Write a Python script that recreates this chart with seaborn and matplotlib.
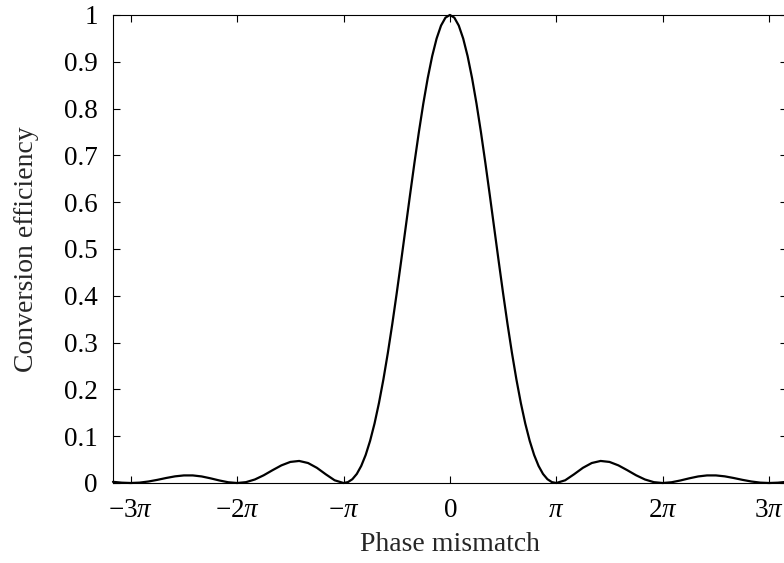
import numpy as np
import pandas as pd
import matplotlib
matplotlib.use("Agg")
import matplotlib.pyplot as plt
import seaborn as sns

# phase mismatch in units of pi/24: coarse on the side lobes, fine on the main lobe
phase_24ths = list(range(-76, -24, 2)) + list(range(-24, 25)) + list(range(26, 77, 2))
efficiency = [
    # side lobes, -38pi/12 .. -13pi/12
    0.0025, 0.0007, 0.0, 0.0008, 0.0032, 0.0067, 0.0107, 0.0142, 0.0162, 0.0162,
    0.0140, 0.0100, 0.0054, 0.0016, 0.0, 0.0018, 0.0075, 0.0165, 0.0274, 0.0377,
    0.0450, 0.0471, 0.0427, 0.0324, 0.0186, 0.0058,
    # main lobe, -pi .. pi
    0.0, 0.0019, 0.0081, 0.0194, 0.0365, 0.0599, 0.0901, 0.1271, 0.1710, 0.2214,
    0.2778, 0.3394, 0.4053, 0.4741, 0.5445, 0.6150, 0.6839, 0.7497, 0.8106, 0.8651,
    0.9119, 0.9496, 0.9774, 0.9943,
    1.0,
    0.9943, 0.9774, 0.9496, 0.9119, 0.8651, 0.8106, 0.7497, 0.6839, 0.6150, 0.5445,
    0.4741, 0.4053, 0.3394, 0.2778, 0.2214, 0.1710, 0.1271, 0.0901, 0.0599, 0.0365,
    0.0194, 0.0081, 0.0019, 0.0,
    # side lobes, 13pi/12 .. 38pi/12
    0.0058, 0.0186, 0.0324, 0.0427, 0.0471, 0.0450, 0.0377, 0.0274, 0.0165, 0.0075,
    0.0018, 0.0, 0.0016, 0.0054, 0.0100, 0.0140, 0.0162, 0.0162, 0.0142, 0.0107,
    0.0067, 0.0032, 0.0008, 0.0, 0.0007, 0.0025,
]
xtick_multiples = [-3, -2, -1, 0, 1, 2, 3]
xtick_labels = [r"$-3\pi$", r"$-2\pi$", r"$-\pi$", r"$0$", r"$\pi$", r"$2\pi$", r"$3\pi$"]
ytick_values = [0, 0.1, 0.2, 0.3, 0.4, 0.5, 0.6, 0.7, 0.8, 0.9, 1]

sns.set_style("ticks")
plt.rcParams["font.family"] = ["Liberation Serif", "DejaVu Serif"]
plt.rcParams["mathtext.fontset"] = "custom"
plt.rcParams["mathtext.rm"] = "Liberation Serif"
plt.rcParams["mathtext.it"] = "Liberation Serif:italic"

df = pd.DataFrame({
    "phase": np.array(phase_24ths) * np.pi / 24,
    "eff": efficiency,
})

fig = plt.figure(figsize=(7.84, 5.63), dpi=100)
ax = fig.add_axes([0.1441, 0.1421, 0.8595, 0.8313])
sns.lineplot(data=df, x="phase", y="eff", color="black", linewidth=1.6, ax=ax, clip_on=False)

ax.set_xlim(-76 * np.pi / 24, 76 * np.pi / 24)
ax.set_ylim(0, 1)
ax.set_xticks([m * np.pi for m in xtick_multiples])
ax.set_xticklabels(xtick_labels)
ax.set_yticks(ytick_values)
ax.set_yticklabels([f"{v:g}" for v in ytick_values])
ax.tick_params(direction="in", length=5, width=0.8, top=True, right=True,
               labelsize=19.5, colors="black")
ax.tick_params(axis="y", pad=11)
ax.tick_params(axis="x", pad=11)
for s in ax.spines.values():
    s.set_linewidth(0.8)
    s.set_color("black")

ax.set_xlabel("Phase mismatch", fontsize=20, labelpad=6)
ax.set_ylabel("Conversion efficiency", fontsize=20, labelpad=18)

fig.savefig("out.png", dpi=100)
plt.close(fig)
